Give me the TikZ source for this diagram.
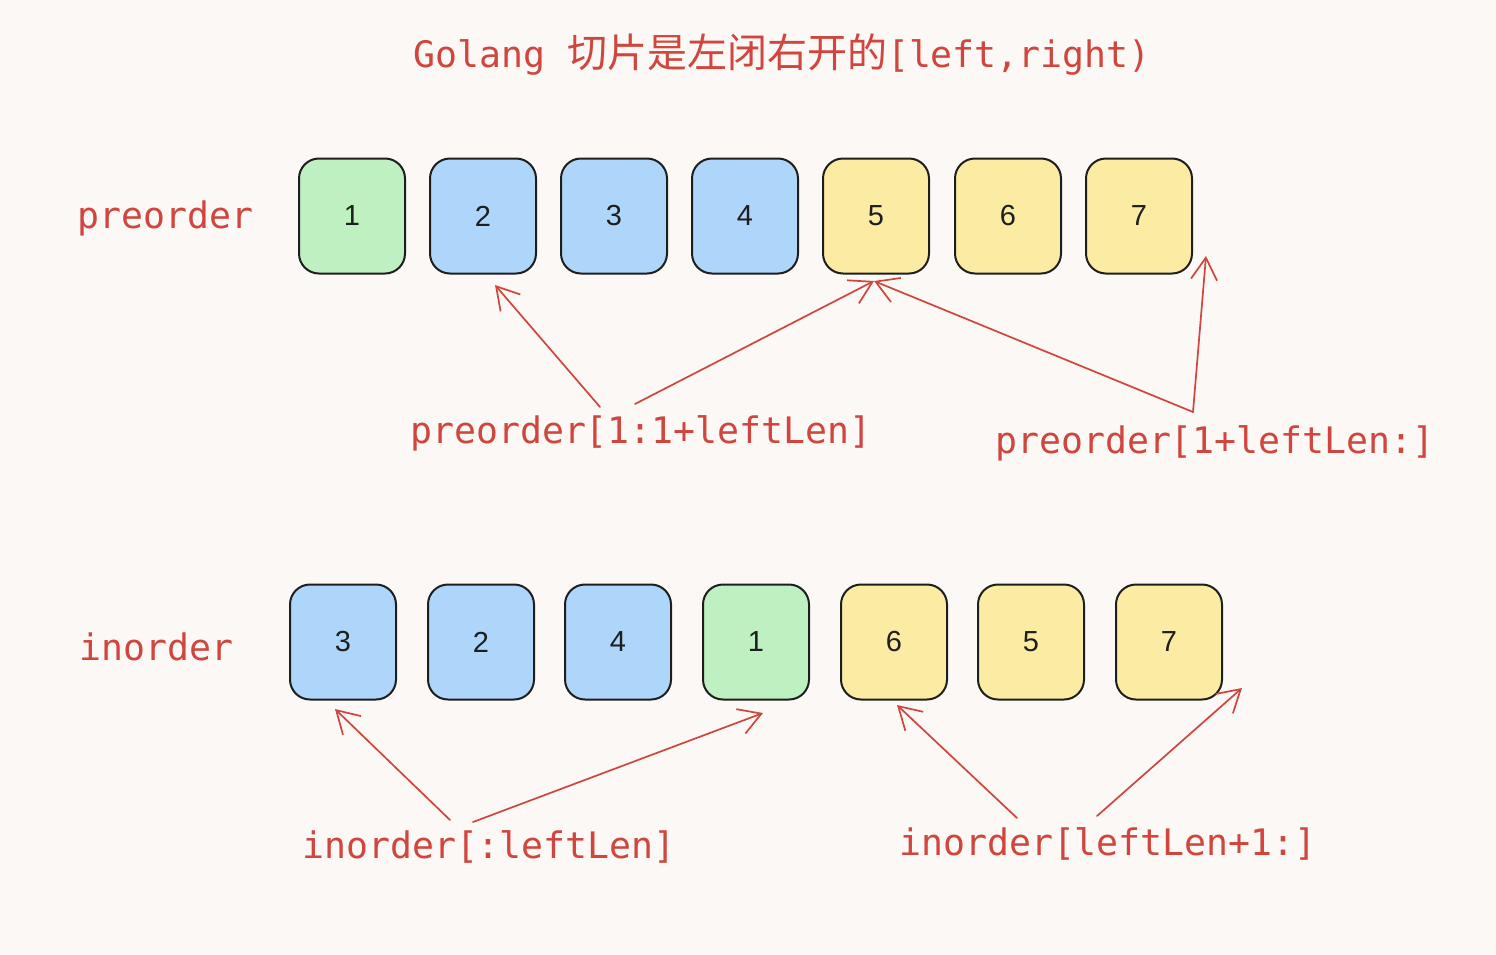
\documentclass[tikz,border=0pt]{standalone}
\usepackage{fontspec}
\usetikzlibrary{arrows.meta}
\newfontfamily\monof{DejaVu Sans Mono}
\newfontfamily\digf{Liberation Sans}
\newfontfamily\cjkf{Noto Sans CJK SC}
\definecolor{bgc}{HTML}{FBF8F5}
\definecolor{redc}{HTML}{D0453D}
\definecolor{edgec}{HTML}{1E1E1E}
\definecolor{greenc}{HTML}{BFF0C1}
\definecolor{bluec}{HTML}{AED6FA}
\definecolor{yellowc}{HTML}{FCEBA3}
\tikzset{
  cell/.style={draw=edgec, line width=2pt, rounded corners=20pt,
    minimum width=106pt, minimum height=115pt, inner sep=0pt,
    font=\digf\fontsize{29}{30}\selectfont, text=edgec},
  gcell/.style={cell, fill=greenc},
  bcell/.style={cell, fill=bluec},
  ycell/.style={cell, fill=yellowc},
  lbl/.style={anchor=base west, inner sep=0pt, text=redc,
    font=\monof\fontsize{36.5}{40}\selectfont},
  arr/.style={draw=redc, line width=1.7pt, line cap=round,
    -{Straight Barb[length=22pt,width=26pt,line width=1.7pt]}}
}
\begin{document}
\begin{tikzpicture}[x=1pt,y=-1pt]
\fill[bgc] (0,0) rectangle (1496,954);
\useasboundingbox (0,0) rectangle (1496,954);

% title
\node[lbl] (title) at (413,67) {Golang {\cjkf\fontsize{40}{40}\selectfont 切片是左闭右开的}[left,right)};

% preorder row
\node[lbl] (lp) at (77,228) {preorder};
\node[gcell] (p1) at (352,216) {1};
\node[bcell] (p2) at (483,216) {2};
\node[bcell] (p3) at (614,216) {3};
\node[bcell] (p4) at (745,216) {4};
\node[ycell] (p5) at (876,216) {5};
\node[ycell] (p6) at (1008,216) {6};
\node[ycell] (p7) at (1139,216) {7};

% inorder row
\node[lbl] (li) at (79,660) {inorder};
\node[bcell] (i1) at (343,642) {3};
\node[bcell] (i2) at (481,642) {2};
\node[bcell] (i3) at (618,642) {4};
\node[gcell] (i4) at (756,642) {1};
\node[ycell] (i5) at (894,642) {6};
\node[ycell] (i6) at (1031,642) {5};
\node[ycell] (i7) at (1169,642) {7};

% slice labels
\node[lbl] (la) at (410,443) {preorder[1:1+leftLen]};
\node[lbl] (lb) at (995,453) {preorder[1+leftLen:]};
\node[lbl] (lc) at (302,858) {inorder[:leftLen]};
\node[lbl] (ld) at (899,855) {inorder[leftLen+1:]};

% arrow end points
\coordinate (a1s) at (600,407);
\coordinate (a1e) at (495,285);
\coordinate (a2s) at (635,404);
\coordinate (a2e) at (874,281);
\coordinate (b0) at (1193,412);
\coordinate (b1e) at (874,281);
\coordinate (b2e) at (1206,256);
\coordinate (c1s) at (450,820);
\coordinate (c1e) at (335,709);
\coordinate (c2s) at (473,822);
\coordinate (c2e) at (763,713);
\coordinate (d1s) at (1017,818);
\coordinate (d1e) at (897,705);
\coordinate (d2s) at (1097,816);
\coordinate (d2e) at (1242,688);

\draw[arr] (a1s) -- (a1e);
\draw[arr] (a2s) -- (a2e);
\draw[arr] (b0) -- (b1e);
\draw[arr] (b0) -- (b2e);
\draw[arr] (c1s) -- (c1e);
\draw[arr] (c2s) -- (c2e);
\draw[arr] (d1s) -- (d1e);
\draw[arr] (d2s) -- (d2e);
\end{tikzpicture}
\end{document}
